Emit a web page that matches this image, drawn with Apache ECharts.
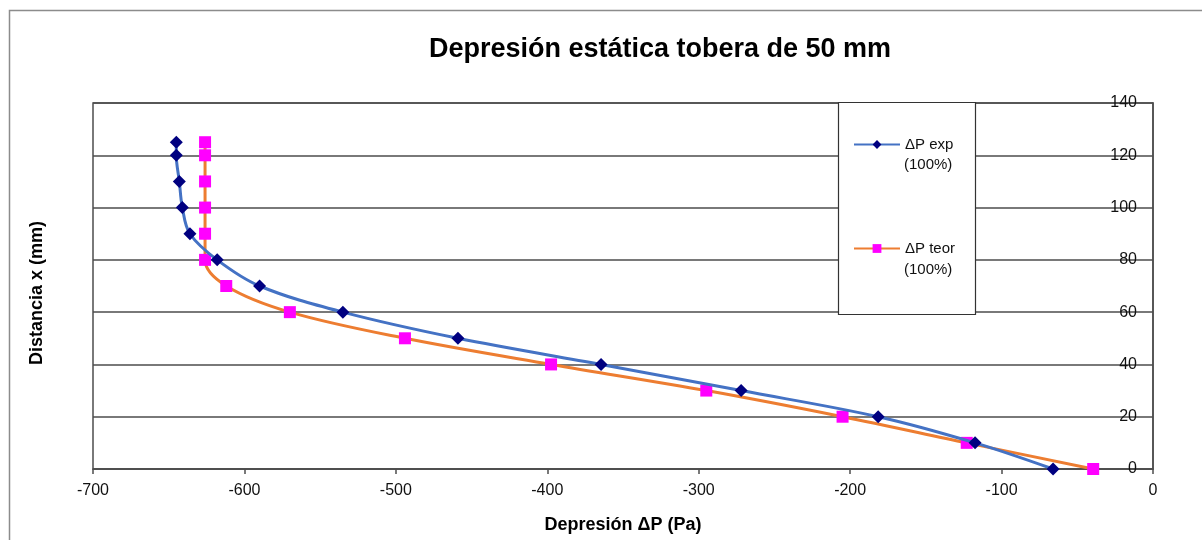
<!DOCTYPE html>
<html><head><meta charset="utf-8">
<script src="https://cdn.jsdelivr.net/npm/echarts@6/dist/echarts.min.js"></script>
<style>html,body{margin:0;padding:0;background:#fff}#c{width:1202px;height:540px}</style>
</head><body><div id="c"></div>
<script>
// Data
const distancia = [0, 10, 20, 30, 40, 50, 60, 70, 80, 90, 100, 110, 120, 125];
const dpExp  = [-66, -117.5, -181.5, -272, -364.5, -459, -535, -590, -618, -636, -641, -643, -645, -645];
const dpTeor = [-39.5, -123, -205, -295, -397.5, -494, -570, -612, -626, -626, -626, -626, -626, -626];
const xTicks = [-700, -600, -500, -400, -300, -200, -100, 0];
const yTicks = [0, 20, 40, 60, 80, 100, 120, 140];
const seriesNames = ['ΔP exp', 'ΔP teor'];
const legendSub = '(100%)';

const FONT = '"Liberation Sans", Arial, sans-serif';
const pairs = (xs, ys) => xs.map((v, i) => [v, ys[i]]);

const chart = echarts.init(document.getElementById('c'), null, {renderer: 'canvas'});
chart.setOption({
  animation: false,
  backgroundColor: '#fff',
  textStyle: {fontFamily: FONT},
  title: {
    text: 'Depresión estática tobera de 50 mm',
    left: 655, top: 31, textAlign: 'center',
    textStyle: {fontFamily: FONT, fontSize: 27, fontWeight: 'bold', color: '#000'}
  },
  grid: {left: 93, right: 49, top: 103, bottom: 71, show: true, borderColor: '#4d4d4d', borderWidth: 1.5},
  xAxis: {
    type: 'value', min: xTicks[0], max: xTicks[xTicks.length - 1], interval: 100,
    name: 'Depresión ΔP (Pa)', nameLocation: 'middle', nameGap: 47,
    nameTextStyle: {fontFamily: FONT, fontSize: 18, fontWeight: 'bold', color: '#000'},
    axisLine: {show: true, onZero: false, lineStyle: {color: '#4d4d4d', width: 1.5}},
    axisTick: {show: true, length: 5, lineStyle: {color: '#4d4d4d', width: 1.5}},
    axisLabel: {fontFamily: FONT, fontSize: 16, color: '#111', margin: 14},
    splitLine: {show: false}
  },
  yAxis: {
    type: 'value', position: 'right', min: yTicks[0], max: yTicks[yTicks.length - 1], interval: 20,
    axisLine: {show: true, onZero: false, lineStyle: {color: '#4d4d4d', width: 1.5}},
    axisTick: {show: false},
    axisLabel: {inside: true, fontFamily: FONT, fontSize: 16, color: '#111', margin: 16},
    splitLine: {show: true, lineStyle: {color: '#4d4d4d', width: 1.5}}
  },
  legend: {
    orient: 'vertical', left: 853, top: 137, itemGap: 89, z: 20,
    itemWidth: 46, itemHeight: 11, padding: 0,
    textStyle: {fontFamily: FONT, fontSize: 15, color: '#111'},
    data: seriesNames
  },
  graphic: [
    {type: 'rect', shape: {x: 9.5, y: 10.5, width: 1300, height: 700}, style: {fill: 'none', stroke: '#8c8c8c', lineWidth: 1.5}, silent: true, z: -10},
    {type: 'rect', shape: {x: 838.5, y: 102.5, width: 137, height: 212}, style: {fill: '#fff', stroke: '#333', lineWidth: 1.2}, z: 5},
    {type: 'text', left: 904, top: 157, z: 30, style: {text: legendSub, font: '15px ' + FONT, fill: '#111'}},
    {type: 'text', left: 904, top: 262, z: 30, style: {text: legendSub, font: '15px ' + FONT, fill: '#111'}},
    {type: 'text', x: 37, y: 293, rotation: Math.PI / 2, z: 30,
     style: {text: 'Distancia x (mm)', font: 'bold 18px ' + FONT, fill: '#000', align: 'center', verticalAlign: 'middle'}}
  ],
  series: [
    {
      name: seriesNames[0], type: 'line', smooth: 0.35, z: 3,
      data: pairs(dpExp, distancia),
      symbol: 'diamond', symbolSize: 13,
      lineStyle: {color: '#4472C4', width: 3},
      itemStyle: {color: '#000080', borderWidth: 0}
    },
    {
      name: seriesNames[1], type: 'line', smooth: 0.35, z: 2,
      data: pairs(dpTeor, distancia),
      symbol: 'rect', symbolSize: 12,
      lineStyle: {color: '#ED7D31', width: 3},
      itemStyle: {color: '#FF00FF', borderWidth: 0}
    }
  ]
});
</script></body></html>
